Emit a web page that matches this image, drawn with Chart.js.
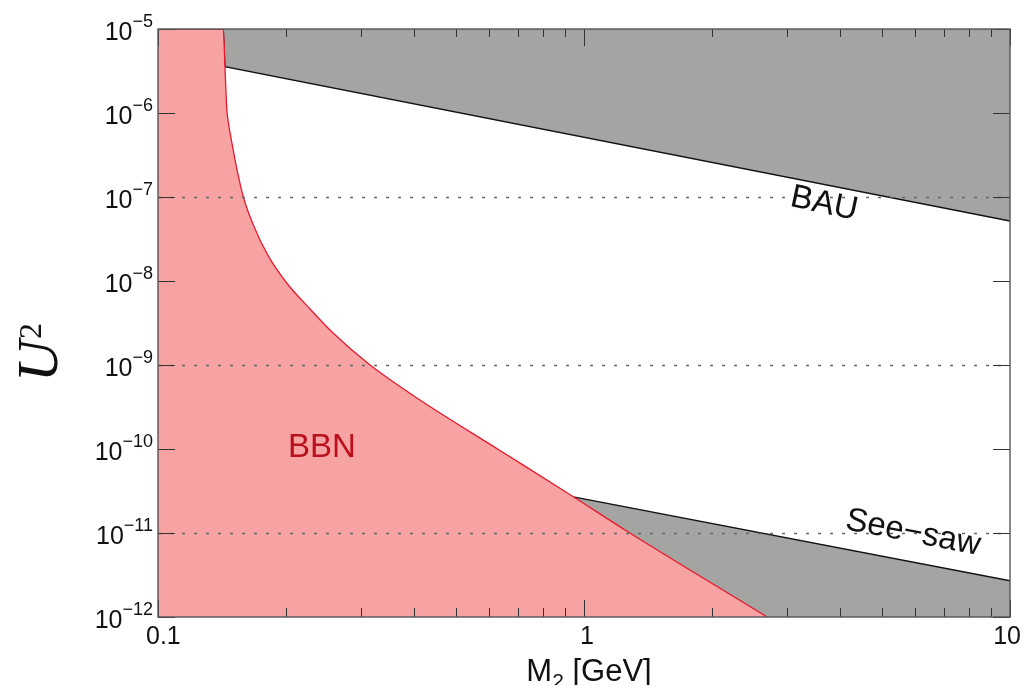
<!DOCTYPE html>
<html>
<head>
<meta charset="utf-8">
<script src="https://cdn.jsdelivr.net/npm/chart.js@4.4.1/dist/chart.umd.min.js"></script>
<style>
  body { margin: 0; background: #fff; }
  #wrap { width: 1032px; height: 685px; position: relative; }
</style>
</head>
<body>
<div id="wrap"><canvas id="chart"></canvas></div>
<script>
// BBN bound (region to the left / below is excluded)
const bbnMass = [0.1, 0.1423, 0.1436, 0.1450, 0.1466, 0.1489, 0.1530, 0.1586, 0.1674, 0.1815, 0.2005, 0.2275, 0.2576, 0.3147, 0.412, 0.635, 0.944, 1.262, 2.69];
const bbnU2 = [1e-5, 1e-5, 3.56e-6, 1.14e-6, 7.2e-7, 4.55e-7, 2.20e-7, 1e-7, 4.64e-8, 1.99e-8, 9.47e-9, 4.64e-9, 2.40e-9, 1e-9, 3.83e-10, 9.6e-11, 2.70e-11, 1.05e-11, 1e-12];

// BAU upper bound (shaded above)
const bauMass = [0.1423, 0.1436, 10];
const bauU2 = [1e-5, 3.56e-6, 5.18e-8];

// See-saw lower bound (shaded below)
const seesawMass = [0.944, 10];
const seesawU2 = [2.70e-11, 2.7e-12];

const massTicks = [0.1, 1, 10];
const massMinor = [0.2, 0.3, 0.4, 0.5, 0.6, 0.7, 0.8, 0.9, 2, 3, 4, 5, 6, 7, 8, 9];
const u2Ticks = [1e-5, 1e-6, 1e-7, 1e-8, 1e-9, 1e-10, 1e-11, 1e-12];
const dottedLevels = [1e-7, 1e-9, 1e-11];

const toPoints = (xs, ys) => xs.map((x, i) => ({x: x, y: ys[i]}));

const SANS = '"Liberation Sans", Arial, sans-serif';

const decorations = {
    id: 'decorations',
    afterDatasetsDraw(chart) {
        const ctx = chart.ctx;
        const area = chart.chartArea;
        const xs = chart.scales.x;
        const ys = chart.scales.y;
        ctx.save();

        // dotted reference lines
        ctx.strokeStyle = '#666';
        ctx.lineWidth = 1.3;
        ctx.setLineDash([3, 9]);
        dottedLevels.forEach(v => {
            const py = Math.round(ys.getPixelForValue(v)) + 0.5;
            ctx.beginPath();
            ctx.moveTo(area.left, py);
            ctx.lineTo(area.right, py);
            ctx.stroke();
        });
        ctx.setLineDash([]);

        // ticks (inside, on all four sides)
        ctx.strokeStyle = '#333';
        ctx.lineWidth = 1;
        ctx.beginPath();
        u2Ticks.forEach(v => {
            const py = Math.round(ys.getPixelForValue(v)) + 0.5;
            ctx.moveTo(area.left, py); ctx.lineTo(area.left + 17, py);
            ctx.moveTo(area.right, py); ctx.lineTo(area.right - 17, py);
        });
        massTicks.forEach(v => {
            const px = Math.round(xs.getPixelForValue(v)) + 0.5;
            ctx.moveTo(px, area.bottom); ctx.lineTo(px, area.bottom - 17);
            ctx.moveTo(px, area.top); ctx.lineTo(px, area.top + 17);
        });
        massMinor.forEach(v => {
            const px = Math.round(xs.getPixelForValue(v)) + 0.5;
            ctx.moveTo(px, area.bottom); ctx.lineTo(px, area.bottom - 9);
            ctx.moveTo(px, area.top); ctx.lineTo(px, area.top + 8);
        });
        ctx.stroke();

        // frame
        ctx.strokeStyle = '#555';
        ctx.lineWidth = 1.4;
        ctx.strokeRect(area.left, area.top, area.right - area.left, area.bottom - area.top);

        // y tick labels 10^-n
        ctx.fillStyle = '#111';
        ctx.textBaseline = 'alphabetic';
        ctx.textAlign = 'left';
        u2Ticks.forEach(v => {
            const py = ys.getPixelForValue(v);
            const exp = '\u2212' + Math.round(-Math.log10(v));
            ctx.font = '18px ' + SANS;
            const ew = ctx.measureText(exp).width;
            ctx.fillText(exp, area.left - 5 - ew, py - 2);
            ctx.font = '25px ' + SANS;
            const bw = ctx.measureText('10').width;
            ctx.fillText('10', area.left - 5 - ew - bw, py + 11);
        });

        // x tick labels
        ctx.font = '25px ' + SANS;
        ctx.textAlign = 'center';
        massTicks.forEach(v => {
            const label = String(v);
            const w = ctx.measureText(label).width;
            let cx = xs.getPixelForValue(v) + 3;
            cx = Math.min(Math.max(cx, area.left - 12 + w / 2), area.right + 11 - w / 2);
            ctx.fillText(label, cx, 644);
        });

        // x title: M_2 [GeV]
        ctx.textAlign = 'left';
        const big = '31px ' + SANS, small = '21px ' + SANS;
        ctx.font = big;
        const wM = ctx.measureText('M').width;
        const wRest = ctx.measureText(' [GeV]').width;
        ctx.font = small;
        const w2 = ctx.measureText('2').width;
        let tx = 589 - (wM + w2 + wRest) / 2;
        ctx.font = big; ctx.fillText('M', tx, 681);
        ctx.font = small; ctx.fillText('2', tx + wM, 688);
        ctx.font = big; ctx.fillText(' [GeV]', tx + wM + w2, 681);

        // y title: U^2
        ctx.save();
        ctx.translate(57, 382);
        ctx.rotate(-Math.PI / 2);
        ctx.font = 'italic 58px "Liberation Serif", "Times New Roman", serif';
        ctx.fillText('U', 0, 0);
        const wU = ctx.measureText('U').width;
        ctx.font = '32px "Liberation Serif", "Times New Roman", serif';
        ctx.fillText('2', wU + 1, -16);
        ctx.restore();

        // region labels
        ctx.textAlign = 'center';
        ctx.textBaseline = 'middle';
        ctx.font = '33px ' + SANS;
        ctx.fillStyle = '#b8101c';
        ctx.fillText('BBN', 322, 448);

        ctx.fillStyle = '#111';
        ctx.save();
        ctx.translate(824, 204);
        ctx.rotate(12 * Math.PI / 180);
        ctx.fillText('BAU', 0, 0);
        ctx.restore();

        ctx.save();
        ctx.translate(913, 533);
        ctx.rotate(11 * Math.PI / 180);
        ctx.fillText('See\u2212saw', 0, 0);
        ctx.restore();

        ctx.restore();
    }
};

const config = {
    type: 'line',
    data: {
        datasets: [
            {
                label: 'BBN',
                data: toPoints(bbnMass, bbnU2),
                borderColor: '#e8192c',
                backgroundColor: '#f8a3a3',
                borderWidth: 1.3,
                pointRadius: 0,
                cubicInterpolationMode: 'monotone',
                fill: 'start'
            },
            {
                label: 'BAU',
                data: toPoints(bauMass, bauU2),
                borderColor: '#111',
                backgroundColor: '#a4a4a2',
                borderWidth: 1.3,
                pointRadius: 0,
                fill: 'end'
            },
            {
                label: 'See-saw',
                data: toPoints(seesawMass, seesawU2),
                borderColor: '#111',
                backgroundColor: '#a4a4a2',
                borderWidth: 1.3,
                pointRadius: 0,
                fill: 'start'
            }
        ]
    },
    options: {
        responsive: true,
        maintainAspectRatio: false,
        animation: false,
        layout: { padding: { left: 158, top: 29, right: 22, bottom: 68 } },
        plugins: { legend: { display: false }, tooltip: { enabled: false } },
        scales: {
            x: { type: 'logarithmic', min: 0.1, max: 10, display: false },
            y: { type: 'logarithmic', min: 1e-12, max: 1e-5, display: false }
        }
    },
    plugins: [decorations]
};

new Chart(document.getElementById('chart').getContext('2d'), config);
</script>
</body>
</html>
